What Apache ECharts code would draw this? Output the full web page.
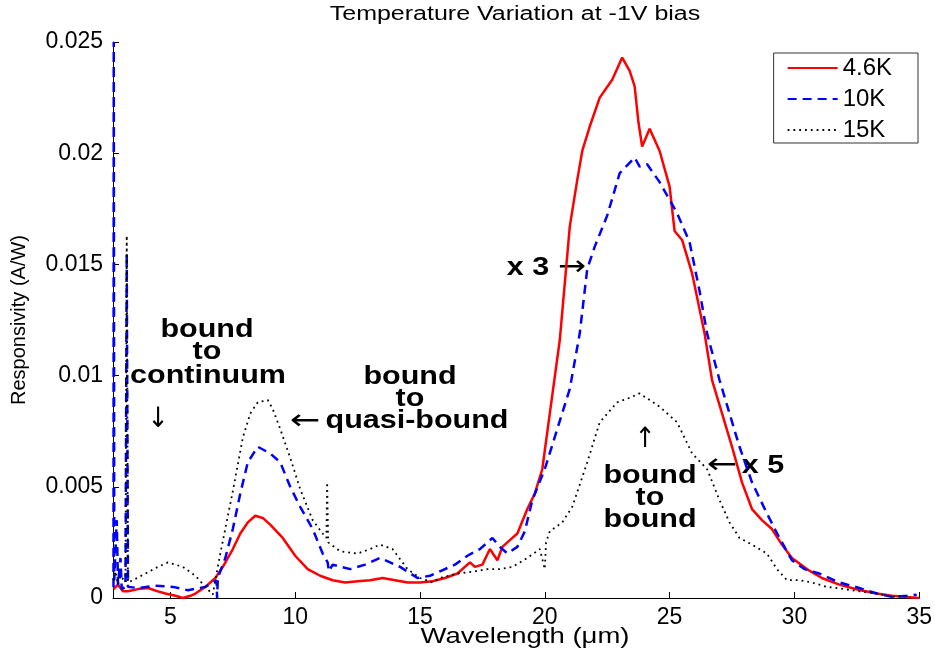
<!DOCTYPE html>
<html>
<head>
<meta charset="utf-8">
<script src="https://cdn.jsdelivr.net/npm/echarts@6/dist/echarts.min.js"></script>
<style>html,body{margin:0;padding:0;background:#fff}#c{width:935px;height:652px}</style>
</head>
<body>
<div id="c"></div>
<script>
const xTicks = [5, 10, 15, 20, 25, 30, 35];
const legendNames = ['4.6K', '10K', '15K'];

const red46K = [[2.72,0.0004],[2.9,0.0006],[3.1,0.0003],[3.3,0.0003],[3.7,0.0004],[4.1,0.00045],[4.5,0.0003],[4.8,0.0002],[5.2,0.0001],[5.5,0.0],[5.8,0.0001],[6.0,0.0002],[6.4,0.0005],[6.8,0.0009],[7.1,0.0014],[7.5,0.0022],[7.8,0.0029],[8.1,0.0034],[8.4,0.0037],[8.7,0.0036],[9.0,0.0033],[9.5,0.0027],[10.0,0.0019],[10.5,0.0013],[11.0,0.0010],[11.5,0.0008],[12.0,0.0007],[12.5,0.00075],[13.0,0.0008],[13.5,0.0009],[14.0,0.0008],[14.5,0.0007],[15.0,0.0007],[15.5,0.00075],[16.0,0.0009],[16.5,0.0011],[17.0,0.0016],[17.2,0.0014],[17.5,0.0015],[17.8,0.0022],[18.1,0.0017],[18.3,0.0023],[18.6,0.0026],[18.9,0.0029],[19.3,0.0040],[19.6,0.0047],[19.9,0.0058],[20.2,0.0083],[20.6,0.0116],[21.0,0.0167],[21.3,0.0188],[21.5,0.0201],[21.8,0.0212],[22.2,0.0225],[22.7,0.0233],[23.1,0.0243],[23.4,0.0237],[23.6,0.0230],[23.75,0.0214],[23.9,0.0203],[24.2,0.0211],[24.6,0.0201],[25.0,0.0185],[25.2,0.0165],[25.5,0.0161],[25.9,0.0146],[26.4,0.0119],[26.7,0.0098],[27.1,0.0083],[27.5,0.0068],[27.9,0.0052],[28.3,0.0040],[28.7,0.0035],[29.1,0.0031],[29.5,0.0024],[29.9,0.0018],[30.5,0.0013],[31.1,0.0009],[31.8,0.0006],[32.6,0.00036],[33.3,0.0002],[33.9,0.0001],[34.5,0.00005],[35.0,0.0]];

const blue10K = [[2.72,0.0005],[2.73,0.025],[2.75,0.0008],[2.85,0.0035],[2.9,0.0006],[3.0,0.0018],[3.05,0.0004],[3.2,0.0005],[3.25,0.0155],[3.3,0.0005],[3.7,0.00045],[4.4,0.00055],[5.1,0.0005],[5.7,0.00035],[6.4,0.0005],[6.85,0.0008],[6.87,0.0],[6.9,0.0009],[7.2,0.0018],[7.5,0.0031],[7.8,0.0047],[8.1,0.0061],[8.5,0.0068],[9.0,0.0065],[9.4,0.0061],[9.8,0.0050],[10.2,0.0041],[10.7,0.0031],[11.1,0.0020],[11.3,0.0016],[11.35,0.0012],[11.5,0.0015],[12.2,0.0013],[12.8,0.0015],[13.4,0.0018],[13.8,0.0016],[14.2,0.0014],[14.9,0.0009],[15.4,0.0010],[15.8,0.0012],[16.4,0.0015],[16.9,0.0019],[17.4,0.0022],[17.9,0.0027],[18.2,0.0023],[18.5,0.0020],[18.9,0.0023],[19.2,0.0030],[19.5,0.0044],[20.0,0.0058],[20.5,0.0076],[21.0,0.0094],[21.4,0.0119],[21.7,0.0148],[22.0,0.0158],[22.5,0.0172],[23.0,0.0191],[23.6,0.0198],[23.8,0.0194],[24.1,0.0195],[24.6,0.0187],[25.3,0.0173],[25.8,0.0160],[26.2,0.0138],[26.5,0.0119],[27.0,0.0098],[27.4,0.0083],[27.8,0.0068],[28.3,0.0052],[28.9,0.0038],[29.4,0.0027],[29.9,0.0017],[30.4,0.0013],[31.0,0.0011],[31.8,0.0007],[32.6,0.00045],[33.3,0.0002],[33.9,0.00005],[34.5,0.0001],[34.9,0.00015]];

const black15K = [[2.72,0.0008],[2.8,0.0012],[2.9,0.0006],[3.0,0.0010],[3.2,0.0007],[3.25,0.0163],[3.3,0.0007],[3.5,0.0008],[4.0,0.0011],[4.5,0.0014],[4.9,0.0016],[5.5,0.0014],[6.0,0.0010],[6.4,0.0005],[6.7,0.00015],[6.8,0.0008],[7.0,0.0020],[7.5,0.0048],[7.9,0.0072],[8.2,0.0083],[8.5,0.0088],[8.9,0.0089],[9.1,0.0085],[9.4,0.0076],[9.8,0.0063],[10.2,0.0049],[10.7,0.0035],[11.1,0.0029],[11.25,0.0027],[11.28,0.0052],[11.32,0.0025],[11.8,0.0021],[12.5,0.0020],[13.0,0.0022],[13.4,0.0024],[13.9,0.0022],[14.5,0.0013],[15.0,0.0009],[15.5,0.0007],[15.8,0.0009],[16.5,0.0011],[17.2,0.0012],[17.7,0.0013],[18.2,0.0013],[18.7,0.0014],[19.3,0.0018],[19.8,0.0022],[20.0,0.0013],[20.05,0.0025],[20.2,0.0030],[20.7,0.0034],[21.1,0.0041],[21.7,0.0061],[22.2,0.0079],[22.9,0.0088],[23.4,0.0090],[23.8,0.0092],[24.2,0.0089],[24.6,0.0086],[25.3,0.0079],[25.9,0.0065],[26.5,0.0058],[27.0,0.0044],[27.4,0.0034],[27.8,0.0027],[28.3,0.0024],[28.9,0.0020],[29.3,0.0013],[29.7,0.0008],[30.2,0.0008],[30.7,0.0007],[31.3,0.0005],[32.0,0.0004],[32.6,0.0003],[33.3,0.0002],[33.9,0.00005],[34.5,0.0001]];

const FONT = '"Liberation Sans", Arial, sans-serif';
const ARROWFONT = '"DejaVu Sans", sans-serif';
function txt(text, x, y, size, bold, sx, font) {
  return {
    type: 'text', x: x, y: y, scaleX: sx || 1, silent: true,
    style: { text: text, fill: '#000', font: (bold ? 'bold ' : '') + size + 'px ' + (font || FONT), textAlign: 'center', textVerticalAlign: 'middle' }
  };
}

const chart = echarts.init(document.getElementById('c'), null, { renderer: 'canvas' });
chart.setOption({
  animation: false,
  backgroundColor: '#fff',
  grid: { left: 113, right: 15, top: 42, bottom: 54, containLabel: false },
  xAxis: {
    type: 'value', min: 2.7, max: 35,
    axisLine: { show: true, lineStyle: { color: '#000', width: 1 } },
    axisTick: { show: true, inside: true, length: 6, customValues: xTicks, lineStyle: { color: '#000' } },
    axisLabel: { customValues: xTicks, color: '#000', fontSize: 23, fontFamily: FONT, margin: 8 },
    splitLine: { show: false }
  },
  yAxis: {
    type: 'value', min: 0, max: 0.025, interval: 0.005,
    name: 'Responsivity (A/W)', nameLocation: 'middle', nameGap: 84,
    nameTextStyle: { color: '#000', fontSize: 20, fontFamily: FONT },
    axisLine: { show: true, lineStyle: { color: '#000', width: 1 } },
    axisTick: { show: true, inside: true, length: 6, lineStyle: { color: '#000' } },
    axisLabel: { color: '#000', fontSize: 23, fontFamily: FONT, margin: 10 },
    splitLine: { show: false }
  },
  legend: {
    data: legendNames, orient: 'vertical', right: 17, top: 53,
    itemWidth: 50, itemHeight: 14, itemGap: 7,
    padding: [3, 26, 1, 13],
    itemStyle: { opacity: 0 },
    borderColor: '#333', borderWidth: 1, backgroundColor: '#fff',
    textStyle: { color: '#000', fontSize: 24, fontFamily: FONT }
  },
  series: [
    { name: '4.6K', type: 'line', data: red46K, symbol: 'none', lineStyle: { color: '#ff0000', width: 2.5 }, itemStyle: { color: '#ff0000' } },
    { name: '10K', type: 'line', data: blue10K, symbol: 'none', lineStyle: { color: '#0000ff', width: 2.5, type: [9, 6] }, itemStyle: { color: '#0000ff' } },
    { name: '15K', type: 'line', data: black15K, symbol: 'none', lineStyle: { color: '#000000', width: 1.8, type: [1.8, 4] }, itemStyle: { color: '#000000' } }
  ],
  graphic: [
    txt('Temperature Variation at -1V bias', 515, 14, 20, false, 1.25),
    txt('Wavelength (\u03bcm)', 525, 637, 22, false, 1.25),
    txt('bound', 207, 330, 25, true, 1.22),
    txt('to', 207, 352, 25, true, 1.22),
    txt('continuum', 208, 376, 25, true, 1.22),
    txt('\u2193', 158, 420, 28, false, 0.9, ARROWFONT),
    txt('bound', 410, 377, 25, true, 1.22),
    txt('to', 410, 399, 25, true, 1.22),
    txt('quasi-bound', 417, 421, 25, true, 1.22),
    txt('\u2190', 305, 422, 28, false, 1.3, ARROWFONT),
    txt('x 3', 528, 268, 25, true, 1.22),
    txt('\u2192', 572, 268, 28, false, 1.2, ARROWFONT),
    txt('\u2191', 645, 440, 28, false, 0.9, ARROWFONT),
    txt('bound', 650, 476, 25, true, 1.22),
    txt('to', 650, 498, 25, true, 1.22),
    txt('bound', 650, 520, 25, true, 1.22),
    txt('\u2190', 722, 466, 28, false, 1.3, ARROWFONT),
    txt('x 5', 763, 466, 25, true, 1.22)
  ]
});
</script>
</body>
</html>
